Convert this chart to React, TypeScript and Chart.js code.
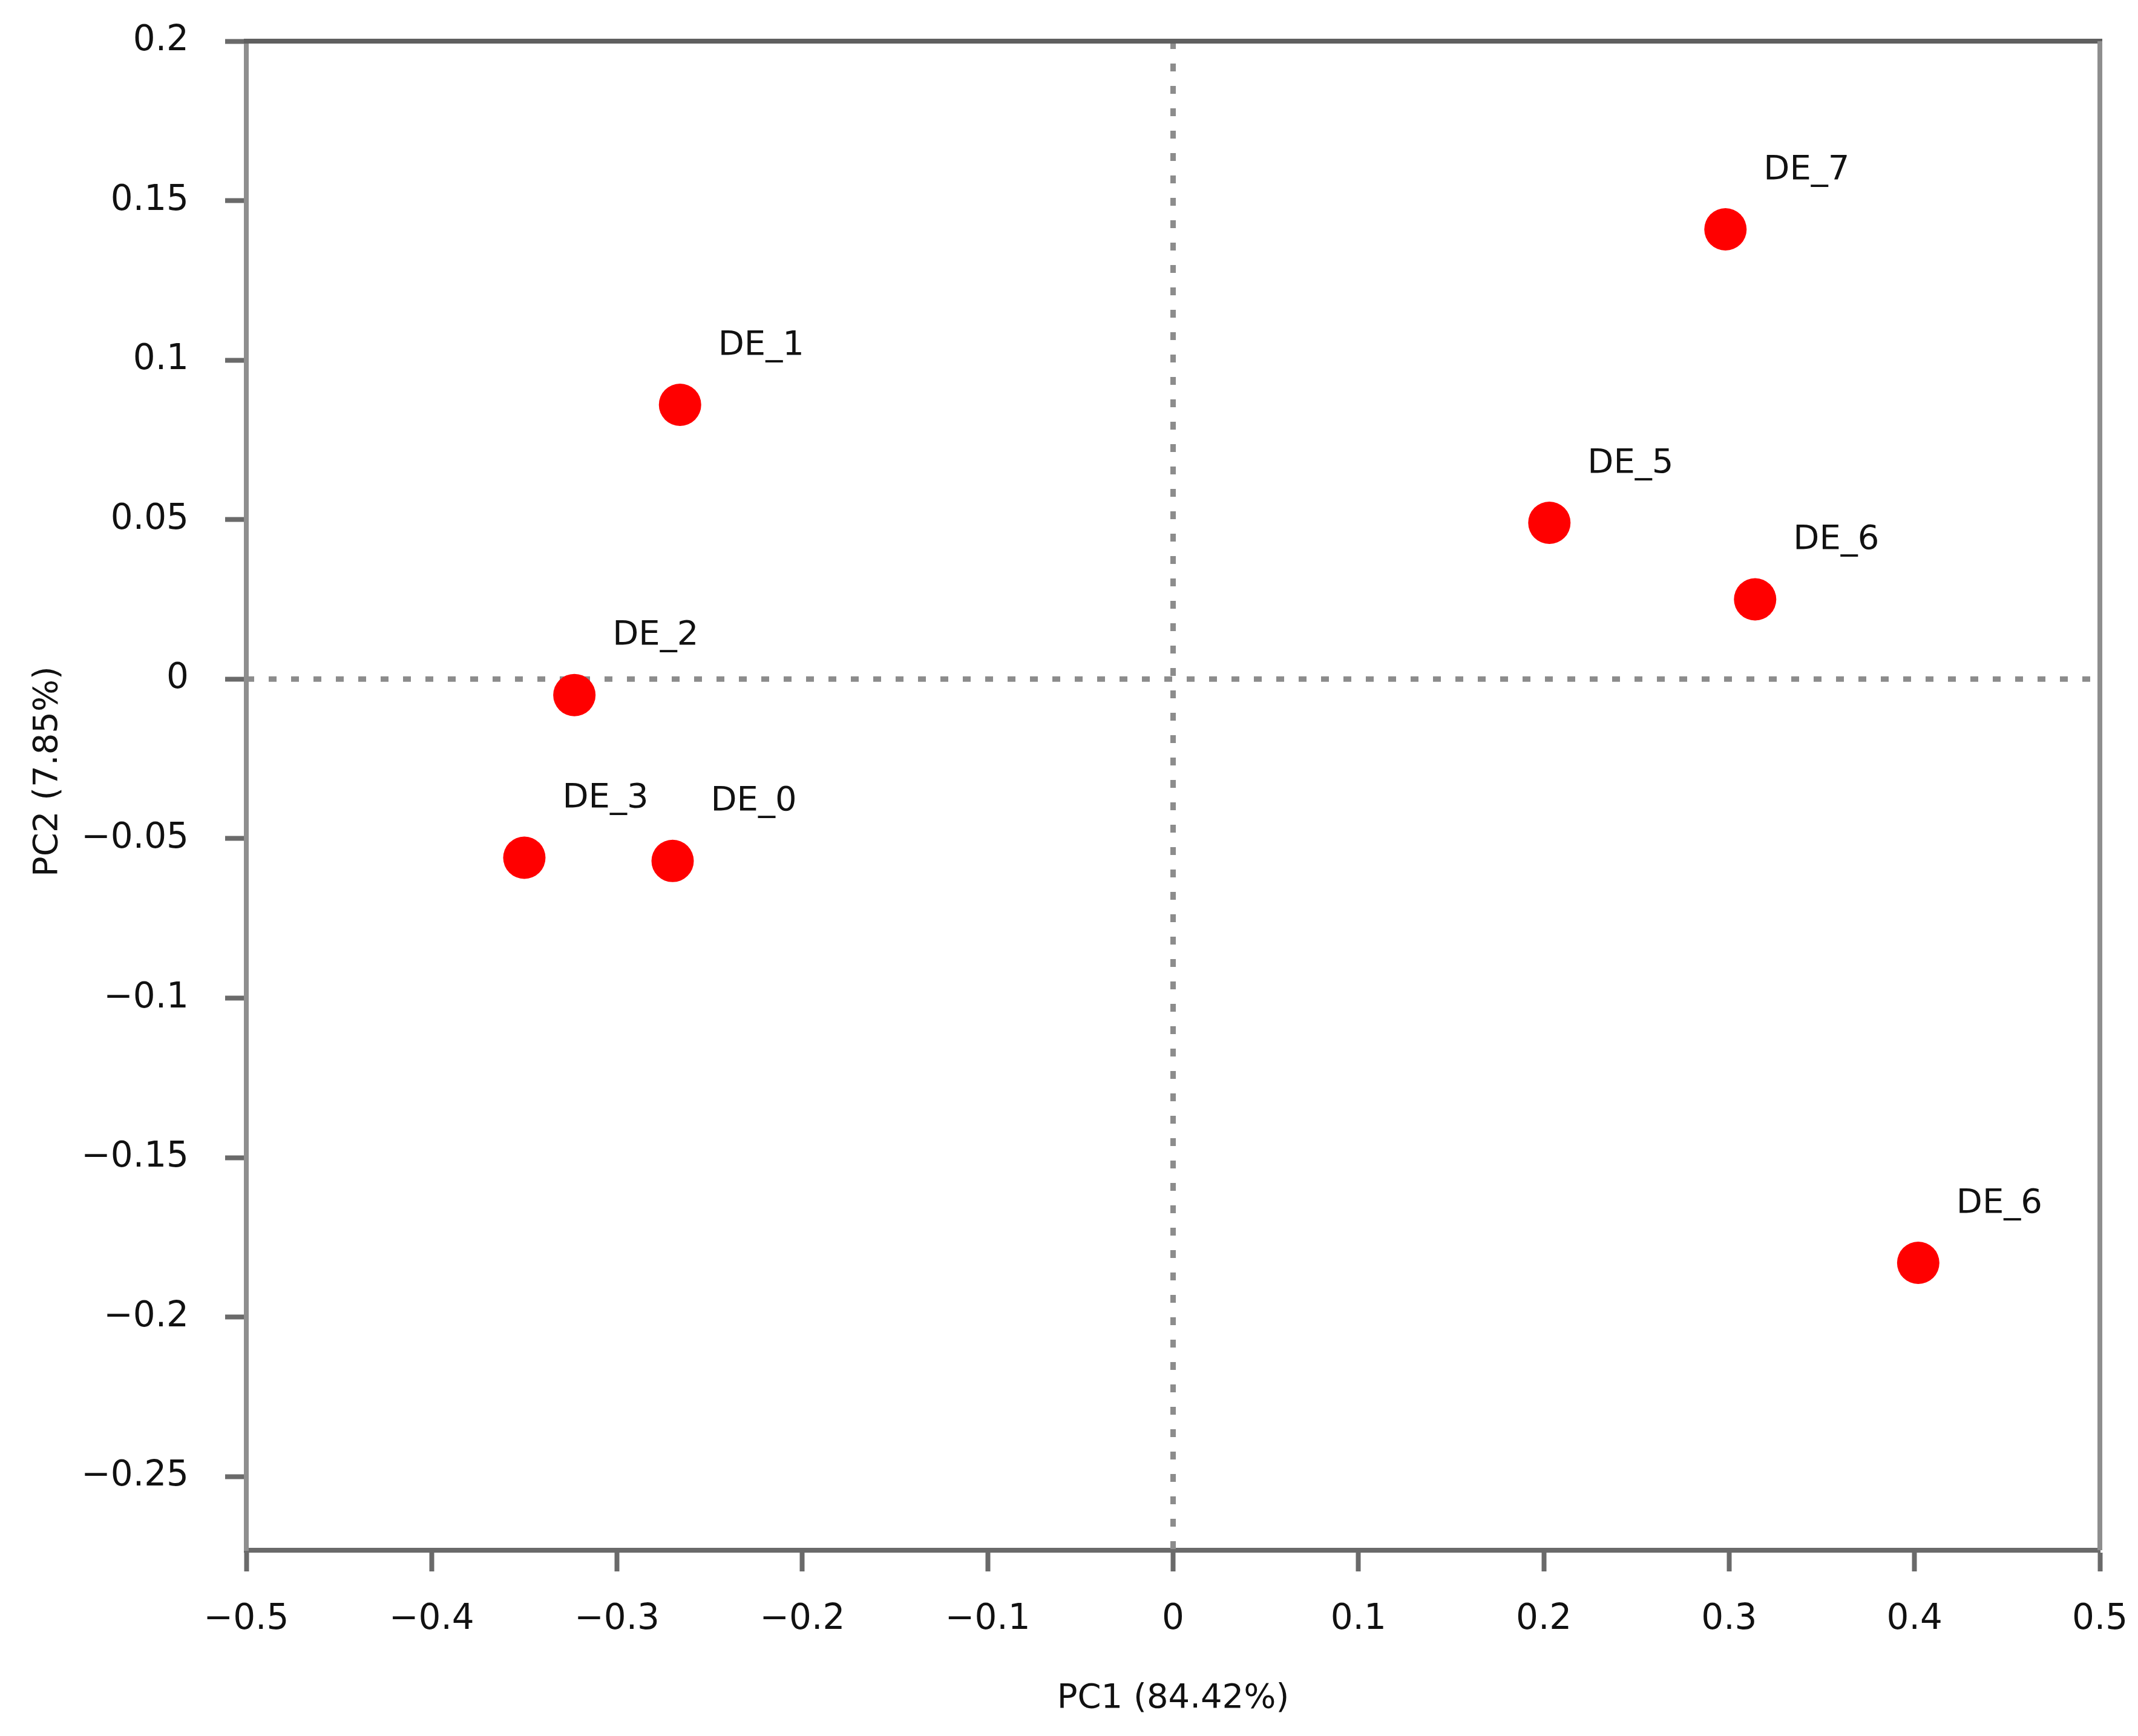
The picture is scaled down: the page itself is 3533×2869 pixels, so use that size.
import React, { useEffect, useRef } from 'react';
import { Chart, registerables } from 'chart.js';

Chart.register(...registerables);

// ---- data ----
const sampleLabels = ['DE_0', 'DE_1', 'DE_2', 'DE_3', 'DE_5', 'DE_6', 'DE_7', 'DE_6'];
const pc1Values = [-0.27, -0.266, -0.323, -0.35, 0.203, 0.314, 0.298, 0.402];
const pc2Values = [-0.057, 0.086, -0.005, -0.056, 0.049, 0.025, 0.141, -0.183];
const xTickValues = [-0.5, -0.4, -0.3, -0.2, -0.1, 0, 0.1, 0.2, 0.3, 0.4, 0.5];
const yTickValues = [0.2, 0.15, 0.1, 0.05, 0, -0.05, -0.1, -0.15, -0.2, -0.25];
const xAxisTitle = 'PC1 (84.42%)';
const yAxisTitle = 'PC2 (7.85%)';

const W = 3533;
const H = 2869;
const FONT = '"DejaVu Sans", "Open Sans", sans-serif';
const TICK_SIZE = 58;
const LABEL_SIZE = 56;
const TITLE_SIZE = 56;

const fmt = (v: number) => (v === 0 ? '0' : String(v).replace('-', '\u2212'));

const decorPlugin = {
  id: 'decor',
  beforeDatasetsDraw(chart: any) {
    const { ctx, chartArea, scales } = chart;
    const { left, right, top, bottom } = chartArea;
    const x0 = scales.x.getPixelForValue(0);
    const y0 = scales.y.getPixelForValue(0);
    ctx.save();
    // dotted zero lines
    ctx.strokeStyle = '#8c8c8c';
    ctx.lineWidth = 9;
    ctx.setLineDash([13, 24]);
    ctx.beginPath();
    ctx.moveTo(x0, top);
    ctx.lineTo(x0, bottom);
    ctx.moveTo(left, y0);
    ctx.lineTo(right, y0);
    ctx.stroke();
    ctx.setLineDash([]);
    // top frame line
    ctx.strokeStyle = '#5f5f5f';
    ctx.lineWidth = 8;
    ctx.beginPath();
    ctx.moveTo(left - 4, top);
    ctx.lineTo(right + 4, top);
    ctx.stroke();
    // right frame line
    ctx.strokeStyle = '#8e8e8e';
    ctx.beginPath();
    ctx.moveTo(right, top);
    ctx.lineTo(right, bottom);
    ctx.stroke();
    ctx.restore();
  },
  afterDatasetsDraw(chart: any) {
    const { ctx, chartArea } = chart;
    const meta = chart.getDatasetMeta(0);
    ctx.save();
    ctx.font = `${LABEL_SIZE}px ${FONT}`;
    ctx.fillStyle = '#111';
    ctx.textAlign = 'left';
    ctx.textBaseline = 'middle';
    meta.data.forEach((pt: any, i: number) => {
      ctx.fillText(sampleLabels[i], pt.x + 63, pt.y - 98);
    });
    // y-axis title
    ctx.font = `${TITLE_SIZE}px ${FONT}`;
    ctx.textAlign = 'center';
    ctx.translate(79, (chartArea.top + chartArea.bottom) / 2 - 40);
    ctx.rotate(-Math.PI / 2);
    ctx.fillText(yAxisTitle, 0, 0);
    ctx.restore();
  },
};

export default function App() {
  const ref = useRef<HTMLCanvasElement | null>(null);

  useEffect(() => {
    if (!ref.current) return;
    const chart = new Chart(ref.current, {
      type: 'scatter',
      data: {
        datasets: [
          {
            data: pc1Values.map((x, i) => ({ x, y: pc2Values[i] })),
            backgroundColor: '#ff0000',
            borderWidth: 0,
            pointRadius: 35,
            pointHoverRadius: 35,
          },
        ],
      },
      options: {
        animation: false,
        responsive: false,
        devicePixelRatio: 1,
        layout: { padding: { top: 68, right: 63, left: 0, bottom: 0 } },
        plugins: {
          legend: { display: false },
          tooltip: { enabled: false },
        },
        scales: {
          x: {
            type: 'linear',
            min: -0.5,
            max: 0.5,
            afterBuildTicks: (scale: any) => {
              scale.ticks = xTickValues.map((v) => ({ value: v }));
            },
            afterFit: (scale: any) => {
              scale.height = 307;
              scale.paddingLeft = 0;
              scale.paddingRight = 0;
            },
            ticks: {
              callback: (v: any) => fmt(Number(v)),
              font: { family: FONT, size: TICK_SIZE },
              color: '#111',
              padding: 45,
              maxRotation: 0,
              autoSkip: false,
            },
            grid: {
              drawOnChartArea: false,
              drawTicks: true,
              tickLength: 35,
              tickWidth: 8,
              tickColor: '#6a6a6a',
            },
            border: { display: true, color: '#6a6a6a', width: 8 },
            title: {
              display: true,
              text: xAxisTitle,
              font: { family: FONT, size: TITLE_SIZE },
              color: '#111',
              padding: { top: 0, bottom: 28 },
            },
          },
          y: {
            type: 'linear',
            min: -0.2731,
            max: 0.2,
            afterBuildTicks: (scale: any) => {
              scale.ticks = yTickValues.map((v) => ({ value: v }));
            },
            afterFit: (scale: any) => {
              scale.width = 407;
              scale.paddingTop = 0;
              scale.paddingBottom = 0;
            },
            ticks: {
              callback: (v: any) => fmt(Number(v)),
              font: { family: FONT, size: TICK_SIZE },
              color: '#111',
              padding: 60,
              autoSkip: false,
            },
            grid: {
              drawOnChartArea: false,
              drawTicks: true,
              tickLength: 35,
              tickWidth: 8,
              tickColor: '#6a6a6a',
            },
            border: { display: true, color: '#8e8e8e', width: 8 },
            title: { display: false },
          },
        },
      },
      plugins: [decorPlugin],
    } as any);
    return () => chart.destroy();
  }, []);

  return (
    <div style={{ position: 'absolute', left: 0, top: 0, width: W, height: H, background: '#fff' }}>
      <canvas ref={ref} width={W} height={H} style={{ width: W, height: H, display: 'block' }} />
    </div>
  );
}
